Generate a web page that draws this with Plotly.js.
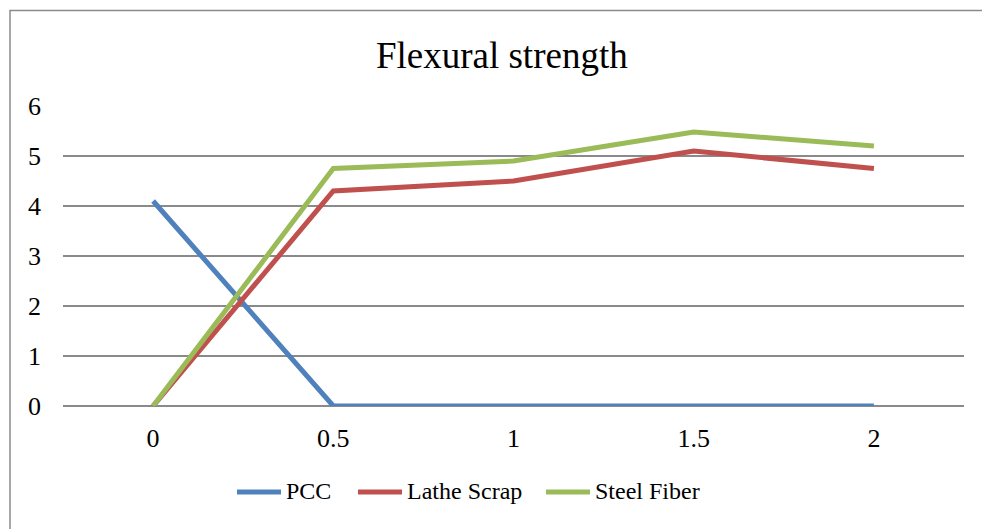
<!DOCTYPE html>
<html>
<head>
<meta charset="utf-8">
<script src="https://cdn.plot.ly/plotly-3.0.1.min.js"></script>
<style>html,body{margin:0;padding:0;background:#fff;}</style>
</head>
<body>
<div id="chart" style="width:982px;height:529px;"></div>
<script>
const categories = ['0', '0.5', '1', '1.5', '2'];
const seriesNames = ['PCC', 'Lathe Scrap', 'Steel Fiber'];
const pcc = [4.1, 0, 0, 0, 0];
const latheScrap = [0, 4.3, 4.5, 5.1, 4.75];
const steelFiber = [0, 4.75, 4.9, 5.48, 5.2];
const yTicks = [0, 1, 2, 3, 4, 5, 6];
const colors = ['#4F81BD', '#C0504D', '#9BBB59'];

const font = 'Liberation Serif, Times New Roman, serif';
const W = 982, H = 529, ML = 63, MR = 18, MT = 106, MB = 123;
const PW = W - ML - MR, PH = H - MT - MB;
const px = v => (v - ML) / PW;          // pixel x -> paper x
const py = v => (H - MB - v) / PH;      // pixel y -> paper y

const seriesValues = [pcc, latheScrap, steelFiber];
const data = seriesNames.map((n, i) => ({
  type: 'scatter', mode: 'lines', name: n, x: categories, y: seriesValues[i],
  line: {color: colors[i], width: 5}
}));

// custom legend (longer line samples like the original)
const legendStarts = [235, 356, 544];
const legendY = 492;
const shapes = [{type: 'rect', xref: 'paper', yref: 'paper',
  x0: px(10), x1: px(995), y0: py(545), y1: py(10.5),
  line: {color: '#8a8a8a', width: 1.5}, fillcolor: 'rgba(0,0,0,0)', layer: 'below'}];
const annotations = [];
seriesNames.forEach((n, i) => {
  shapes.push({type: 'line', xref: 'paper', yref: 'paper',
    x0: px(legendStarts[i] + 2), x1: px(legendStarts[i] + 46), y0: py(legendY), y1: py(legendY),
    line: {color: colors[i], width: 5}});
  annotations.push({xref: 'paper', yref: 'paper', x: px(legendStarts[i] + 50), y: py(legendY - 1),
    xanchor: 'left', yanchor: 'middle', showarrow: false, text: n, borderpad: 0,
    font: {family: font, size: 24, color: '#000'}});
});

const layout = {
  width: W, height: H,
  margin: {l: ML, r: MR, t: MT, b: MB},
  paper_bgcolor: '#fff', plot_bgcolor: '#fff',
  font: {family: font, color: '#000', size: 24},
  title: {text: 'Flexural strength', font: {family: font, size: 37, color: '#000'},
          x: 0.511, xanchor: 'center', xref: 'container', y: 0.896, yanchor: 'middle', yref: 'container'},
  xaxis: {type: 'category', range: [-0.5, 4.5], showgrid: false, zeroline: false, showline: false,
          ticks: '', tickfont: {family: font, size: 26}, ticklabelstandoff: 14, fixedrange: true},
  yaxis: {range: [0, 6], tickvals: yTicks, showgrid: true, gridcolor: '#8a8a8a', gridwidth: 1.6,
          zeroline: true, zerolinecolor: '#8a8a8a', zerolinewidth: 1.6, showline: false, ticks: '',
          tickfont: {family: font, size: 26}, ticklabelstandoff: 21, fixedrange: true},
  showlegend: false,
  shapes: shapes,
  annotations: annotations
};
Plotly.newPlot('chart', data, layout, {displayModeBar: false, staticPlot: true});
</script>
</body>
</html>
